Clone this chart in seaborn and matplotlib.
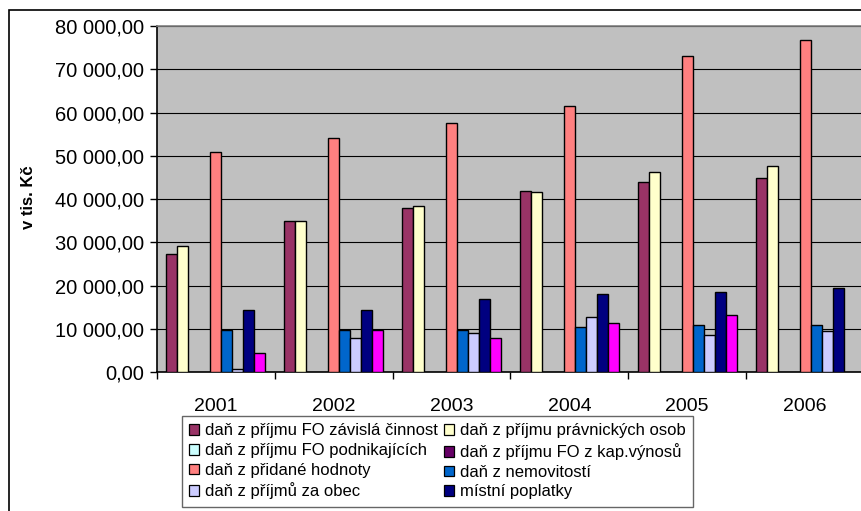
import numpy as np
import pandas as pd
import matplotlib
matplotlib.use("Agg")
import matplotlib.pyplot as plt
from matplotlib.patches import Patch, Rectangle
from matplotlib.ticker import FuncFormatter, FixedLocator
import seaborn as sns

# --- data (v tis. Kč) ---
years = ["2001", "2002", "2003", "2004", "2005", "2006"]

series_names = [
    "daň z příjmu FO závislá činnost",
    "daň z příjmu právnických osob",
    "daň z příjmu FO podnikajících",
    "daň z příjmu FO z kap.výnosů",
    "daň z přidané hodnoty",
    "daň z nemovitostí",
    "daň z příjmů za obec",
    "místní poplatky",
    "ostatní příjmy",
]

fo_zavisla = [27200, 34800, 38000, 41900, 43900, 44900]
pravnicke_osoby = [29200, 34800, 38400, 41600, 46200, 47600]
fo_podnikajici = [np.nan] * 6
fo_kap_vynosy = [np.nan] * 6
dph = [50800, 54100, 57600, 61600, 73100, 76700]
nemovitosti = [9600, 9800, 9800, 10400, 10800, 10800]
za_obec = [800, 7800, 9100, 12800, 8500, 9500]
mistni_poplatky = [14400, 14400, 16800, 18100, 18400, 19400]
ostatni = [4300, 9600, 7800, 11400, 13100, np.nan]

series_values = [fo_zavisla, pravnicke_osoby, fo_podnikajici, fo_kap_vynosy,
                 dph, nemovitosti, za_obec, mistni_poplatky, ostatni]

colors = ["#993366", "#FFFFCC", "#CCFFFF", "#660066", "#FF8080",
          "#0066CC", "#CCCCFF", "#000080", "#FF00FF"]

y_ticks = [0, 10000, 20000, 30000, 40000, 50000, 60000, 70000, 80000]

df = pd.DataFrame(
    [(y, name, v) for name, vals in zip(series_names, series_values)
     for y, v in zip(years, vals)],
    columns=["rok", "položka", "hodnota"],
)

# --- figure ---
W, H = 862, 511
fig = plt.figure(figsize=(W / 100, H / 100), dpi=100)
fig.patch.set_facecolor("white")
plt.rcParams["font.family"] = ["Liberation Sans", "DejaVu Sans"]

ax = fig.add_axes([157 / W, 1 - 372 / H, (864 - 157) / W, (372 - 26) / H])
ax.set_facecolor("#C0C0C0")

sns.barplot(
    data=df, x="rok", y="hodnota", hue="položka",
    order=years, hue_order=series_names, palette=colors,
    width=0.84, dodge=True, errorbar=None, legend=False,
    edgecolor="black", linewidth=1.0, saturation=1, ax=ax, zorder=3,
)

ax.set_xlim(-0.5, len(years) - 0.5)
ax.set_ylim(0, 80000)

# gridlines
ax.yaxis.set_major_locator(FixedLocator(y_ticks))
ax.grid(axis="y", color="black", linewidth=0.8, zorder=1)
ax.grid(axis="x", visible=False)
ax.set_axisbelow(True)

def cz_fmt(v, pos):
    return f"{v:,.2f}".replace(",", " ").replace(".", ",")

ax.yaxis.set_major_formatter(FuncFormatter(cz_fmt))
ax.tick_params(axis="y", direction="out", length=5, width=1, color="black",
               labelsize=14.5, pad=4, labelcolor="black")

# year labels centred, tick marks at group boundaries
ax.set_xticks(np.arange(len(years)) - 0.5)
ax.set_xticklabels([])
ax.set_xticks(np.arange(len(years)), minor=True)
ax.set_xticklabels(years, minor=True)
ax.tick_params(axis="x", which="major", direction="out", length=5, width=1,
               color="black")
ax.tick_params(axis="x", which="minor", length=0, labelsize=14, pad=19)

ax.set_xlabel("")
ax.set_ylabel("")

for side in ["left", "bottom"]:
    ax.spines[side].set_color("black")
    ax.spines[side].set_linewidth(1.2)
for side in ["top", "right"]:
    ax.spines[side].set_color("#808080")
    ax.spines[side].set_linewidth(1.2)

fig.text(29 / W, 1 - 197 / H, "v tis. Kč", rotation=90, ha="center",
         va="center", fontsize=12, fontweight="bold")

# outer chart frame
fig.patches.append(Rectangle((9 / W, -0.1), 2, 1 - 10 / H + 0.1,
                             transform=fig.transFigure, fill=False,
                             edgecolor="black", linewidth=1.2))

# legend (first eight series, row-wise in two columns)
order = [0, 2, 4, 6, 1, 3, 5, 7]
handles = [Patch(facecolor=colors[i], edgecolor="black", linewidth=0.9)
           for i in order]
labels = [series_names[i] for i in order]
leg = fig.legend(
    handles, labels, ncol=2, loc="upper left",
    bbox_to_anchor=(182 / W, 1 - 416 / H), borderaxespad=0,
    frameon=True, fancybox=False, edgecolor="#404040", fontsize=12,
    handlelength=0.6, handleheight=0.6, handletextpad=0.35,
    columnspacing=0.35, labelspacing=0.28, borderpad=0.45,
)
leg.get_frame().set_linewidth(1.0)

fig.savefig("out.png", dpi=100)
